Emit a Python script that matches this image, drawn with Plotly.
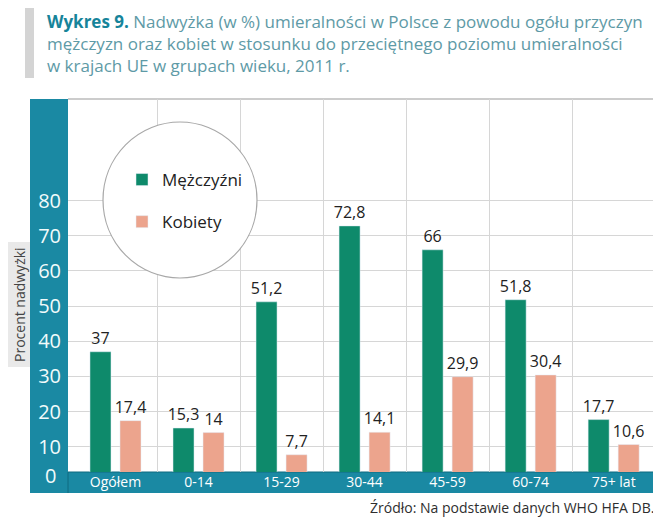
import plotly.graph_objects as go

# ---- data ----
categories = ["Ogółem", "0-14", "15-29", "30-44", "45-59", "60-74", "75+ lat"]
men = [37, 15.3, 51.2, 72.8, 66, 51.8, 17.7]
women = [17.4, 14, 7.7, 14.1, 29.9, 30.4, 10.6]
y_ticks = [10, 20, 30, 40, 50, 60, 70, 80]

OFF = 8  # page body margin offset in the browser
W, H = 661 - OFF, 519 - OFF
L, R, T, B = 68, 656, 99, 472  # plot area in target-picture pixels


def px(x):
    return (x - L) / (R - L)


def py(y):
    return (B - y) / (B - T)


def fmt(v):
    return f"{v:g}".replace(".", ",")


FONT = "Open Sans"
GREEN = "#0e8a6b"
PINK = "#eca48d"
TEAL = "#1a89a3"

idx = list(range(len(categories)))

fig = go.Figure()
fig.add_trace(go.Bar(
    x=idx, y=men, name="Mężczyźni", marker_color=GREEN,
    text=[fmt(v) for v in men], textposition="outside", constraintext="none",
    textfont=dict(size=16, color="#222", family=FONT),
    cliponaxis=False, legendgroup="m",
))
fig.add_trace(go.Bar(
    x=idx, y=women, name="Kobiety", marker_color=PINK,
    text=[fmt(v) for v in women], textposition="outside", constraintext="none",
    textfont=dict(size=16, color="#222", family=FONT),
    cliponaxis=False, legendgroup="k",
))

shapes = [
    # title side bar
    dict(type="rect", xref="paper", yref="paper", x0=px(25), x1=px(34), y0=py(5), y1=py(78),
         fillcolor="#d4d4d4", line_width=0, layer="below"),
    # y-axis title box
    dict(type="rect", xref="paper", yref="paper", x0=px(8), x1=px(31), y0=py(242), y1=py(367),
         fillcolor="#e9e9e9", line_width=0, layer="below"),
    # frame
    dict(type="line", xref="paper", yref="paper", x0=px(L), x1=px(R), y0=py(T), y1=py(T),
         line=dict(color="#9a9a9a", width=1.2), layer="below"),
    dict(type="line", xref="paper", yref="paper", x0=px(R), x1=px(R), y0=py(T), y1=py(B),
         line=dict(color="#9a9a9a", width=1.2), layer="below"),
    # y band
    dict(type="rect", xref="paper", yref="paper", x0=px(30), x1=px(L), y0=py(T), y1=py(493),
         fillcolor=TEAL, line_width=0, layer="below"),
    # x band
    dict(type="rect", xref="paper", yref="paper", x0=px(30), x1=px(R), y0=py(B), y1=py(493),
         fillcolor=TEAL, line_width=0, layer="below"),
    dict(type="line", xref="paper", yref="paper", x0=px(L), x1=px(R), y0=py(B), y1=py(B),
         line=dict(color="#0f6b80", width=1), layer="below"),
    dict(type="line", xref="paper", yref="paper", x0=px(L), x1=px(L), y0=py(B), y1=py(493),
         line=dict(color="#0f6b80", width=1), layer="below"),
    # legend circle
    dict(type="circle", xref="paper", yref="paper", x0=px(103), x1=px(257), y0=py(122), y1=py(278),
         fillcolor="white", line=dict(color="#a8a8a8", width=1.2), layer="above"),
]

title_text = (
    "<span style='color:#16849a'><b>Wykres 9.</b></span> "
    "<span style='color:#5e9aa6'>Nadwyżka (w %) umieralności w Polsce z powodu ogółu przyczyn<br>"
    "mężczyzn oraz kobiet w stosunku do przeciętnego poziomu umieralności<br>"
    "w krajach UE w grupach wieku, 2011 r.</span>"
)

annotations = [
    dict(text=title_text, xref="paper", yref="paper", x=px(45), y=py(8),
         xanchor="left", yanchor="top", align="left", showarrow=False,
         font=dict(family=FONT, size=17, color="#5e9aa6")),
    dict(text="Źródło: Na podstawie danych WHO HFA DB.", xref="paper", yref="paper",
         x=px(656), y=py(507), xanchor="right", yanchor="middle", showarrow=False,
         font=dict(family=FONT, size=14, color="#2e2e2e")),
    dict(text="0", xref="paper", yref="paper", x=px(50), y=py(475),
         xanchor="center", yanchor="middle", showarrow=False,
         font=dict(family=FONT, size=20, color="#f2fbfb")),
    dict(text="Procent nadwyżki", xref="paper", yref="paper", x=px(19), y=py(305),
         xanchor="center", yanchor="middle", textangle=-90, showarrow=False,
         font=dict(family=FONT, size=14, color="#444")),
]

fig.update_layout(
    width=W, height=H,
    margin=dict(l=L - OFF, r=661 - R, t=T - OFF, b=519 - B, autoexpand=False),
    paper_bgcolor="white", plot_bgcolor="white",
    barmode="group", bargap=0.277, bargroupgap=0.3,
    font=dict(family=FONT, color="#222"),
    shapes=shapes, annotations=annotations,
    showlegend=True,
    legend=dict(x=px(122), y=py(162), xanchor="left", yanchor="top",
                bgcolor="rgba(0,0,0,0)", font=dict(family=FONT, size=17, color="#222"),
                tracegroupgap=17, itemwidth=30),
    xaxis=dict(
        range=[-0.572, 6.51], tickmode="array", tickvals=idx, ticktext=categories,
        showgrid=False, zeroline=False, showline=False, ticks="",
        tickfont=dict(family=FONT, size=14, color="white"),
        minor=dict(tickvals=[i + 0.5 for i in idx[:-1]], showgrid=True,
                   gridcolor="#d6d6d6", gridwidth=1, ticks=""),
    ),
    yaxis=dict(
        range=[2.79, 108.9], tickmode="array", tickvals=y_ticks,
        showgrid=True, gridcolor="#d6d6d6", gridwidth=1, zeroline=False, showline=False,
        ticks="", ticklabelstandoff=6,
        tickfont=dict(family=FONT, size=20, color="#f2fbfb"),
    ),
)

fig.write_html("out.html")
